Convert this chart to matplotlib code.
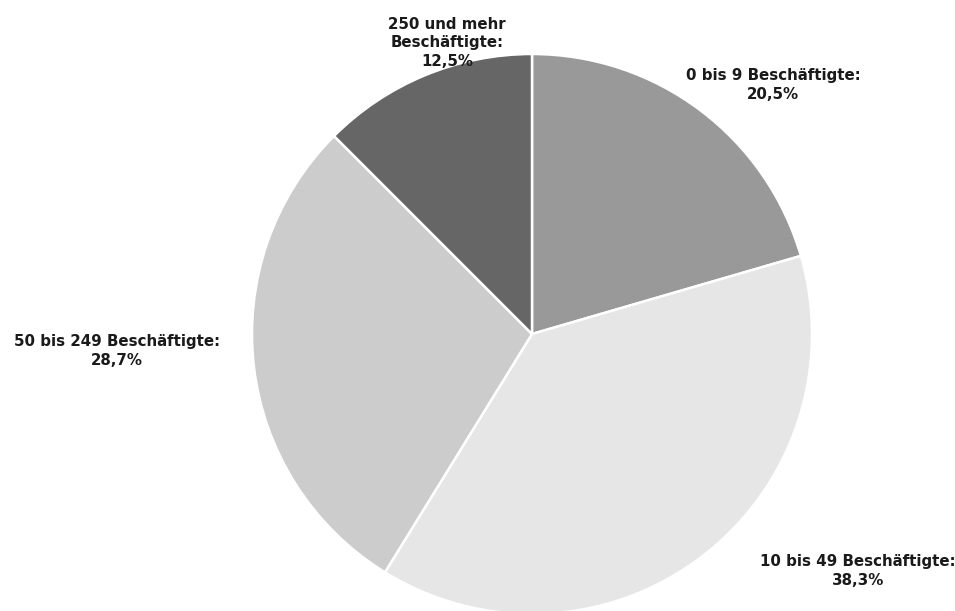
import matplotlib
matplotlib.use("Agg")
from matplotlib import pyplot as plt

# Anteile nach Betriebsgröße
groessen = ["0 bis 9 Beschäftigte:", "10 bis 49 Beschäftigte:",
            "50 bis 249 Beschäftigte:", "250 und mehr\nBeschäftigte:"]
anteile = [20.5, 38.3, 28.7, 12.5]
farben = ["#999999", "#e6e6e6", "#cccccc", "#666666"]

# Beschriftungspositionen (Pixel, y von oben)
label_pos = [(773, 85), (858, 571), (117, 351), (447, 43)]

fig = plt.figure(figsize=(9.55, 6.11), dpi=100)
ax = fig.add_axes([0, 0, 1, 1])

ax.pie(anteile, colors=farben, startangle=90, counterclock=False,
       center=(532, 611 - 334), radius=280, frame=True,
       wedgeprops=dict(edgecolor="white", linewidth=1.8))
ax.set_xlim(0, 955)
ax.set_ylim(0, 611)
ax.set_aspect("equal")
ax.axis("off")

for name, wert, (x, y) in zip(groessen, anteile, label_pos):
    txt = name + "\n" + f"{wert:.1f}".replace(".", ",") + "%"
    ax.text(x, 611 - y, txt, ha="center", va="center", fontsize=10.8,
            fontweight="bold", color="#1a1a1a", linespacing=1.3,
            family="DejaVu Sans")

fig.savefig("out.png", dpi=100)
